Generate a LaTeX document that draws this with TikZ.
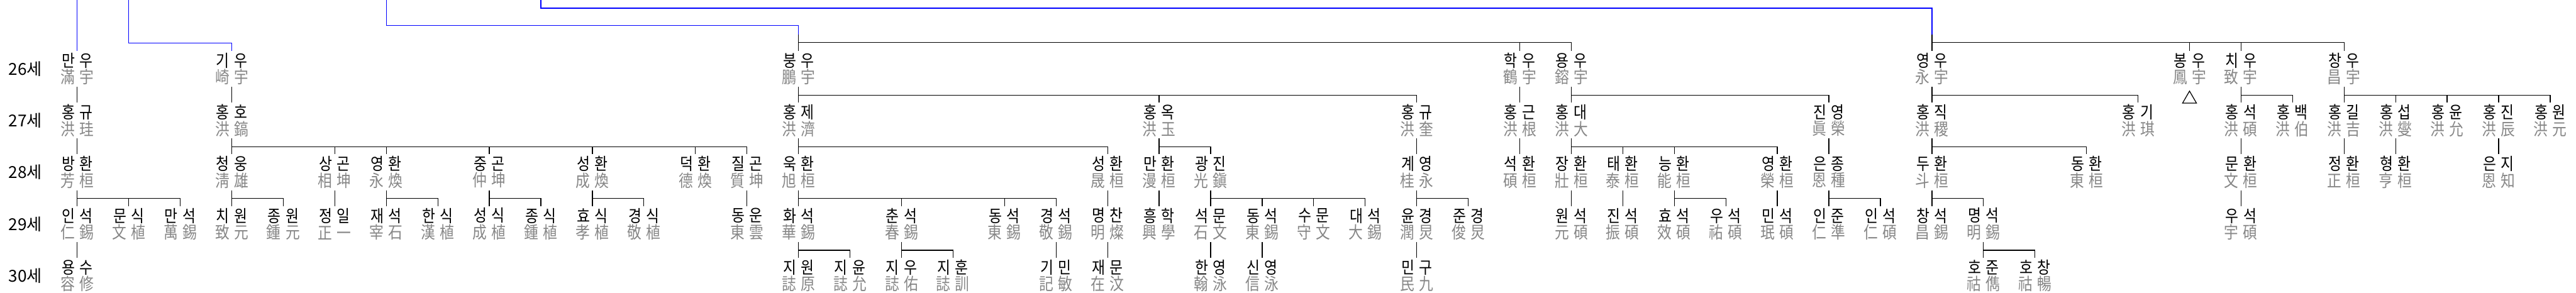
\documentclass[tikz,border=0pt]{standalone}
\usepackage{fontspec}
\setmainfont{Noto Sans CJK KR}
\newfontfamily\namefont{Noto Sans CJK KR}[FakeStretch=0.85]
\usetikzlibrary{positioning, shapes.geometric}
\definecolor{hanja}{RGB}{135,135,135}
\definecolor{lineage}{RGB}{0,0,255}
\def\twoch#1#2{#1\hspace{.27em}#2}
\newcommand\pn[2]{\twoch#1\\{\color{hanja}\twoch#2}}
\tikzset{
  person/.style={align=center, inner sep=0pt, minimum height=0.94cm,
    font=\namefont\fontsize{12.8}{12.6}\selectfont}, % hangul name over hanja name
  gen/.style={font=\fontsize{12.5}{14}\selectfont}, % generation label
  kin/.style={to path={(\tikztostart) -- ++(0,-0.22cm) -| (\tikztotarget)}}, % down to the bar, across, down
  upline/.style={draw=lineage}, % line coming from the generations above
  nomark/.style={draw, regular polygon, regular polygon sides=3,
    minimum size=0.43cm, inner sep=0pt}, % small open triangle
}

\begin{document}
\begin{tikzpicture}[x=1.375cm, y=-1.38cm, line width=0.6pt]
  \useasboundingbox (-1.498,-1.333) rectangle (48.502,4.326);

  \foreach \g [count=\r from 0] in {26,...,30}
    \node[gen] (gen\g) at (-1.007,\r) {{\g}세};

  % 26세
  \node[person] (manu)    at (0,0)  {\pn{만우}{滿宇}};
  \node[person] (giu)     at (3,0)  {\pn{기우}{崎宇}};
  \node[person] (bungu)   at (14,0) {\pn{붕우}{鵬宇}};
  \node[person] (haku)    at (28,0) {\pn{학우}{鶴宇}};
  \node[person] (yongu)   at (29,0) {\pn{용우}{鎔宇}};
  \node[person] (yeongu)  at (36,0) {\pn{영우}{永宇}};
  \node[person] (bongu)   at (41,0) {\pn{봉우}{鳳宇}};
  \node[person] (chiu)    at (42,0) {\pn{치우}{致宇}};
  \node[person] (changu)  at (44,0) {\pn{창우}{昌宇}};
  \node[nomark, below=0.09cm of bongu] (mark) {};

  % 27세
  \node[person] (honggyu)  at (0,1)  {\pn{홍규}{洪珪}};
  \node[person] (hongho)   at (3,1)  {\pn{홍호}{洪鎬}};
  \node[person] (hongje)   at (14,1) {\pn{홍제}{洪濟}};
  \node[person] (hongok)   at (21,1) {\pn{홍옥}{洪玉}};
  \node[person] (honggyub) at (26,1) {\pn{홍규}{洪奎}};
  \node[person] (honggeun) at (28,1) {\pn{홍근}{洪根}};
  \node[person] (hongdae)  at (29,1) {\pn{홍대}{洪大}};
  \node[person] (jinyeong) at (34,1) {\pn{진영}{眞榮}};
  \node[person] (hongjik)  at (36,1) {\pn{홍직}{洪稷}};
  \node[person] (honggi)   at (40,1) {\pn{홍기}{洪琪}};
  \node[person] (hongseok) at (42,1) {\pn{홍석}{洪碩}};
  \node[person] (hongbaek) at (43,1) {\pn{홍백}{洪伯}};
  \node[person] (honggil)  at (44,1) {\pn{홍길}{洪吉}};
  \node[person] (hongseop) at (45,1) {\pn{홍섭}{洪燮}};
  \node[person] (hongyun)  at (46,1) {\pn{홍윤}{洪允}};
  \node[person] (hongjin)  at (47,1) {\pn{홍진}{洪辰}};
  \node[person] (hongwon)  at (48,1) {\pn{홍원}{洪元}};

  % 28세
  \node[person] (banghwan)   at (0,2)  {\pn{방환}{芳桓}};
  \node[person] (cheongung)  at (3,2)  {\pn{청웅}{淸雄}};
  \node[person] (sanggon)    at (5,2)  {\pn{상곤}{相坤}};
  \node[person] (yeonghwan)  at (6,2)  {\pn{영환}{永煥}};
  \node[person] (junggon)    at (8,2)  {\pn{중곤}{仲坤}};
  \node[person] (seonghwan)  at (10,2) {\pn{성환}{成煥}};
  \node[person] (deokhwan)   at (12,2) {\pn{덕환}{德煥}};
  \node[person] (jilgon)     at (13,2) {\pn{질곤}{質坤}};
  \node[person] (ukhwan)     at (14,2) {\pn{욱환}{旭桓}};
  \node[person] (seonghwanb) at (20,2) {\pn{성환}{晟桓}};
  \node[person] (manhwan)    at (21,2) {\pn{만환}{漫桓}};
  \node[person] (gwangjin)   at (22,2) {\pn{광진}{光鎭}};
  \node[person] (gyeyeong)   at (26,2) {\pn{계영}{桂永}};
  \node[person] (seokhwan)   at (28,2) {\pn{석환}{碩桓}};
  \node[person] (janghwan)   at (29,2) {\pn{장환}{壯桓}};
  \node[person] (taehwan)    at (30,2) {\pn{태환}{泰桓}};
  \node[person] (neunghwan)  at (31,2) {\pn{능환}{能桓}};
  \node[person] (yeonghwanb) at (33,2) {\pn{영환}{榮桓}};
  \node[person] (eunjong)    at (34,2) {\pn{은종}{恩種}};
  \node[person] (duhwan)     at (36,2) {\pn{두환}{斗桓}};
  \node[person] (donghwan)   at (39,2) {\pn{동환}{東桓}};
  \node[person] (munhwan)    at (42,2) {\pn{문환}{文桓}};
  \node[person] (jeonghwan)  at (44,2) {\pn{정환}{正桓}};
  \node[person] (hyeonghwan) at (45,2) {\pn{형환}{亨桓}};
  \node[person] (eunji)      at (47,2) {\pn{은지}{恩知}};

  % 29세
  \node[person] (inseok)     at (0,3)  {\pn{인석}{仁錫}};
  \node[person] (munsik)     at (1,3)  {\pn{문식}{文植}};
  \node[person] (manseok)    at (2,3)  {\pn{만석}{萬錫}};
  \node[person] (chiwon)     at (3,3)  {\pn{치원}{致元}};
  \node[person] (jongwon)    at (4,3)  {\pn{종원}{鍾元}};
  \node[person] (jeongil)    at (5,3)  {\pn{정일}{正一}};
  \node[person] (jaeseok)    at (6,3)  {\pn{재석}{宰石}};
  \node[person] (hansik)     at (7,3)  {\pn{한식}{漢植}};
  \node[person] (seongsik)   at (8,3)  {\pn{성식}{成植}};
  \node[person] (jongsik)    at (9,3)  {\pn{종식}{鍾植}};
  \node[person] (hyosik)     at (10,3) {\pn{효식}{孝植}};
  \node[person] (gyeongsik)  at (11,3) {\pn{경식}{敬植}};
  \node[person] (dongun)     at (13,3) {\pn{동운}{東雲}};
  \node[person] (hwaseok)    at (14,3) {\pn{화석}{華錫}};
  \node[person] (chunseok)   at (16,3) {\pn{춘석}{春錫}};
  \node[person] (dongseok)   at (18,3) {\pn{동석}{東錫}};
  \node[person] (gyeongseok) at (19,3) {\pn{경석}{敬錫}};
  \node[person] (myeongchan) at (20,3) {\pn{명찬}{明燦}};
  \node[person] (heunghak)   at (21,3) {\pn{흥학}{興學}};
  \node[person] (seokmun)    at (22,3) {\pn{석문}{石文}};
  \node[person] (dongseokb)  at (23,3) {\pn{동석}{東錫}};
  \node[person] (sumun)      at (24,3) {\pn{수문}{守文}};
  \node[person] (daeseok)    at (25,3) {\pn{대석}{大錫}};
  \node[person] (yungyeong)  at (26,3) {\pn{윤경}{潤炅}};
  \node[person] (jungyeong)  at (27,3) {\pn{준경}{俊炅}};
  \node[person] (wonseok)    at (29,3) {\pn{원석}{元碩}};
  \node[person] (jinseok)    at (30,3) {\pn{진석}{振碩}};
  \node[person] (hyoseok)    at (31,3) {\pn{효석}{效碩}};
  \node[person] (useok)      at (32,3) {\pn{우석}{祐碩}};
  \node[person] (minseok)    at (33,3) {\pn{민석}{珉碩}};
  \node[person] (injun)      at (34,3) {\pn{인준}{仁準}};
  \node[person] (inseokb)    at (35,3) {\pn{인석}{仁碩}};
  \node[person] (changseok)  at (36,3) {\pn{창석}{昌錫}};
  \node[person] (myeongseok) at (37,3) {\pn{명석}{明錫}};
  \node[person] (useokb)     at (42,3) {\pn{우석}{宇碩}};

  % 30세
  \node[person] (yongsu)   at (0,4)  {\pn{용수}{容修}};
  \node[person] (jiwon)    at (14,4) {\pn{지원}{誌原}};
  \node[person] (jiyun)    at (15,4) {\pn{지윤}{誌允}};
  \node[person] (jiu)      at (16,4) {\pn{지우}{誌佑}};
  \node[person] (jihun)    at (17,4) {\pn{지훈}{誌訓}};
  \node[person] (gimin)    at (19,4) {\pn{기민}{記敏}};
  \node[person] (jaemun)   at (20,4) {\pn{재문}{在汶}};
  \node[person] (hanyeong) at (22,4) {\pn{한영}{翰泳}};
  \node[person] (sinyeong) at (23,4) {\pn{신영}{信泳}};
  \node[person] (mingu)    at (26,4) {\pn{민구}{民九}};
  \node[person] (hojun)    at (37,4) {\pn{호준}{祜儁}};
  \node[person] (hochang)  at (38,4) {\pn{호창}{祜暢}};

  % lines from above
  \coordinate (t1) at (0,-1.333);
  \coordinate (t2) at (1,-1.333);
  \coordinate (b2) at (3,-0.5);
  \coordinate (t3) at (6,-1.333);
  \coordinate (b3) at (14,-0.841);
  \coordinate (p1) at (14,-0.667);
  \coordinate (t4) at (9,-1.333);
  \coordinate (b4) at (36,-1.174);
  \coordinate (p2) at (36,-0.667);
  \draw[upline] (t1) -- (manu.north);
  \draw[upline] (t2) |- (b2) -- (giu.north);
  \draw[upline] (t3) |- (b3) -- (p1);
  \draw[upline] (t4) |- (b4) -- (p2);

  \draw (p1) edge[kin] (bungu.north) edge[kin] (haku.north) edge[kin] (yongu.north);
  \draw (p2) edge[kin] (yeongu.north) edge[kin] (bongu.north)
    edge[kin] (chiu.north) edge[kin] (changu.north);

  % 만우 / 기우
  \draw (manu.south) edge[kin] (honggyu.north);
  \draw (honggyu.south) edge[kin] (banghwan.north);
  \draw (banghwan.south) edge[kin] (inseok.north) edge[kin] (munsik.north)
    edge[kin] (manseok.north);
  \draw (inseok.south) edge[kin] (yongsu.north);
  \draw (giu.south) edge[kin] (hongho.north);
  \draw (hongho.south) edge[kin] (cheongung.north) edge[kin] (sanggon.north)
    edge[kin] (yeonghwan.north) edge[kin] (junggon.north)
    edge[kin] (seonghwan.north) edge[kin] (deokhwan.north)
    edge[kin] (jilgon.north);
  \draw (cheongung.south) edge[kin] (chiwon.north) edge[kin] (jongwon.north);
  \draw (sanggon.south) edge[kin] (jeongil.north);
  \draw (yeonghwan.south) edge[kin] (jaeseok.north) edge[kin] (hansik.north);
  \draw (junggon.south) edge[kin] (seongsik.north) edge[kin] (jongsik.north);
  \draw (seonghwan.south) edge[kin] (hyosik.north) edge[kin] (gyeongsik.north);
  \draw (jilgon.south) edge[kin] (dongun.north);

  % 붕우
  \draw (bungu.south) edge[kin] (hongje.north) edge[kin] (hongok.north)
    edge[kin] (honggyub.north);
  \draw (hongje.south) edge[kin] (ukhwan.north) edge[kin] (seonghwanb.north);
  \draw (ukhwan.south) edge[kin] (hwaseok.north) edge[kin] (chunseok.north)
    edge[kin] (dongseok.north) edge[kin] (gyeongseok.north);
  \draw (hwaseok.south) edge[kin] (jiwon.north) edge[kin] (jiyun.north);
  \draw (chunseok.south) edge[kin] (jiu.north) edge[kin] (jihun.north);
  \draw (gyeongseok.south) edge[kin] (gimin.north);
  \draw (seonghwanb.south) edge[kin] (myeongchan.north);
  \draw (myeongchan.south) edge[kin] (jaemun.north);
  \draw (hongok.south) edge[kin] (manhwan.north) edge[kin] (gwangjin.north);
  \draw (manhwan.south) edge[kin] (heunghak.north);
  \draw (gwangjin.south) edge[kin] (seokmun.north) edge[kin] (dongseokb.north)
    edge[kin] (sumun.north) edge[kin] (daeseok.north);
  \draw (seokmun.south) edge[kin] (hanyeong.north);
  \draw (dongseokb.south) edge[kin] (sinyeong.north);
  \draw (honggyub.south) edge[kin] (gyeyeong.north);
  \draw (gyeyeong.south) edge[kin] (yungyeong.north) edge[kin] (jungyeong.north);
  \draw (yungyeong.south) edge[kin] (mingu.north);

  % 학우 / 용우
  \draw (haku.south) edge[kin] (honggeun.north);
  \draw (honggeun.south) edge[kin] (seokhwan.north);
  \draw (yongu.south) edge[kin] (hongdae.north) edge[kin] (jinyeong.north);
  \draw (hongdae.south) edge[kin] (janghwan.north) edge[kin] (taehwan.north)
    edge[kin] (neunghwan.north) edge[kin] (yeonghwanb.north);
  \draw (janghwan.south) edge[kin] (wonseok.north);
  \draw (taehwan.south) edge[kin] (jinseok.north);
  \draw (neunghwan.south) edge[kin] (hyoseok.north) edge[kin] (useok.north);
  \draw (yeonghwanb.south) edge[kin] (minseok.north);
  \draw (jinyeong.south) edge[kin] (eunjong.north);
  \draw (eunjong.south) edge[kin] (injun.north) edge[kin] (inseokb.north);

  % 영우, 치우, 창우
  \draw (yeongu.south) edge[kin] (hongjik.north) edge[kin] (honggi.north);
  \draw (hongjik.south) edge[kin] (duhwan.north) edge[kin] (donghwan.north);
  \draw (duhwan.south) edge[kin] (changseok.north) edge[kin] (myeongseok.north);
  \draw (myeongseok.south) edge[kin] (hojun.north) edge[kin] (hochang.north);
  \draw (chiu.south) edge[kin] (hongseok.north) edge[kin] (hongbaek.north);
  \draw (hongseok.south) edge[kin] (munhwan.north);
  \draw (munhwan.south) edge[kin] (useokb.north);
  \draw (changu.south) edge[kin] (honggil.north) edge[kin] (hongseop.north)
    edge[kin] (hongyun.north) edge[kin] (hongjin.north) edge[kin] (hongwon.north);
  \draw (honggil.south) edge[kin] (jeonghwan.north);
  \draw (hongseop.south) edge[kin] (hyeonghwan.north);
  \draw (hongjin.south) edge[kin] (eunji.north);
\end{tikzpicture}
\end{document}
